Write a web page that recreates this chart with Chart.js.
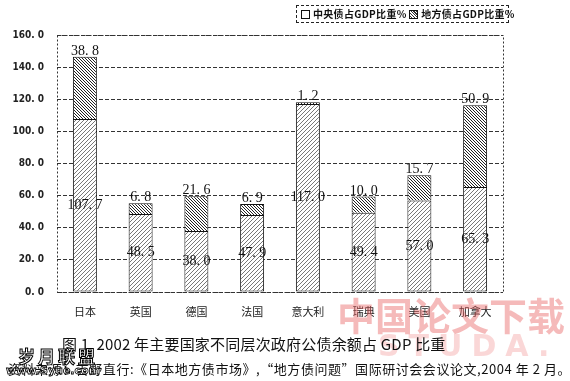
<!DOCTYPE html>
<html><head><meta charset="utf-8">
<script src="https://cdn.jsdelivr.net/npm/chart.js@4.4.1/dist/chart.umd.min.js"></script>
<style>
html,body{margin:0;padding:0;background:#fff;}
#wrap{position:relative;width:570px;height:381px;overflow:hidden;}
canvas#c{position:absolute;left:0;top:0;}
.t{position:absolute;white-space:nowrap;}
#legend{left:296px;top:5px;width:207px;height:16px;border:1px dashed #222;font:bold 10px "Noto Sans CJK SC";color:#111;line-height:16px;padding-left:4px;box-sizing:content-box;letter-spacing:0.3px;}
.sw{display:inline-block;width:7px;height:7px;border:1px solid #111;vertical-align:-1px;margin-right:3px;}
#title{left:62px;top:333px;font:15px "Noto Sans CJK SC";color:#111;letter-spacing:0.2px;}
#src{left:8px;top:359px;font:13px "Noto Sans CJK SC";color:#111;letter-spacing:0.55px;}
#wm1{left:18px;top:343px;font:bold 17px "Noto Sans CJK SC";color:#fff;letter-spacing:3px;-webkit-text-stroke:1px #000;}
#wm2{left:6px;top:364px;font:bold 11px "DejaVu Sans";color:#fff;-webkit-text-stroke:0.8px #000;}
#wm3{left:337px;top:286px;font:bold 38px "Noto Sans CJK SC";color:rgba(232,90,90,0.42);letter-spacing:0px;}
#wm4{left:378px;top:328px;font:bold 30px "DejaVu Sans";color:rgba(240,140,140,0.35);letter-spacing:9px;}
</style></head>
<body><div id="wrap">
<canvas id="c" width="570" height="381"></canvas>
<div id="legend" class="t"><span class="sw" style="background:#fff"></span>中央债占GDP比重% <span class="sw" style="background:repeating-linear-gradient(45deg,#fff 0 1px,#333 1px 2px)"></span>地方债占GDP比重%</div>
<div id="wm3" class="t">中国论文下载</div>
<div id="wm4" class="t">STUDA.</div>
<div id="title" class="t">图 1&nbsp; 2002 年主要国家不同层次政府公债余额占 GDP 比重</div>
<div id="src" class="t">资料来源：吉野直行:《日本地方债市场》,“地方债问题”国际研讨会会议论文,2004 年 2 月。</div>
<div id="wm1" class="t">岁月联盟</div>
<div id="wm2" class="t">www.Syue.com</div>
</div>
<script>
const categories = ['日本','英国','德国','法国','意大利','瑞典','美国','加拿大'];
const centralDebt = [107.7, 48.5, 38.0, 47.9, 117.0, 49.4, 57.0, 65.3];
const localDebt = [38.8, 6.8, 21.6, 6.9, 1.2, 10.0, 15.7, 50.9];
const seriesNames = ['中央债占GDP比重%','地方债占GDP比重%'];
const yMin = 0, yMax = 160, yStep = 20;

function hatch(size, dir, color, w){
  const c = document.createElement('canvas');
  c.width = size; c.height = size;
  const g = c.getContext('2d');
  g.fillStyle = '#fff'; g.fillRect(0,0,size,size);
  g.strokeStyle = color; g.lineWidth = w;
  g.beginPath();
  if(dir === '/'){
    for(let k=-1;k<=1;k++){ g.moveTo(k*size, size); g.lineTo(k*size+size, 0); }
  } else {
    for(let k=-1;k<=1;k++){ g.moveTo(k*size, 0); g.lineTo(k*size+size, size); }
  }
  g.stroke();
  return g.createPattern(c, 'repeat');
}
const ctx0 = document.getElementById('c').getContext('2d');
const patCentral = hatch(4, '/', '#555', 0.8);
const patLocal = hatch(3, '\\', '#222', 1);

const fmt = v => v.toFixed(1).replace('.', '. ');

const labelPlugin = {
  id:'labels',
  afterDatasetsDraw(chart){
    const c = chart.ctx;
    c.save();
    c.font = '14px "Liberation Serif"';
    c.fillStyle = '#111';
    c.textAlign = 'center';
    const m0 = chart.getDatasetMeta(0), m1 = chart.getDatasetMeta(1);
    m0.data.forEach((b,i)=>{
      c.textBaseline = 'middle';
      c.fillText(fmt(centralDebt[i]), b.x, (b.y + b.base)/2);
    });
    m1.data.forEach((b,i)=>{
      c.textBaseline = 'alphabetic';
      c.fillText(fmt(localDebt[i]), b.x, b.y - 2);
    });
    c.restore();
  }
};
const framePlugin = {
  id:'frame',
  beforeDatasetsDraw(chart){
    const a = chart.chartArea, c = chart.ctx;
    c.save();
    c.strokeStyle = '#333'; c.lineWidth = 1; c.setLineDash([2,2]);
    c.strokeRect(Math.round(a.left)+0.5, Math.round(a.top)+0.5, Math.round(a.right-a.left), Math.round(a.bottom-a.top));
    c.restore();
  }
};

new Chart(ctx0, {
  type:'bar',
  data:{
    labels: categories,
    datasets:[
      {label:seriesNames[0], data:centralDebt, backgroundColor:patCentral, borderColor:'#111', borderWidth:1, borderSkipped:false, categoryPercentage:1, barPercentage:0.43},
      {label:seriesNames[1], data:localDebt, backgroundColor:patLocal, borderColor:'#111', borderWidth:1, borderSkipped:'start', categoryPercentage:1, barPercentage:0.43}
    ]
  },
  options:{
    responsive:false, animation:false,
    layout:{padding:{left:0,right:67,top:35,bottom:0}},
    plugins:{legend:{display:false}, tooltip:{enabled:false}, title:{display:false}},
    scales:{
      x:{stacked:true, grid:{display:false}, border:{display:false},
         ticks:{color:'#222', font:{family:'"Noto Sans CJK SC"', size:11}, padding:5, maxRotation:0},
         afterFit(s){ s.height = 89; }},
      y:{stacked:true, min:yMin, max:yMax,
         grid:{color:'#333', lineWidth:1, drawTicks:false},
         border:{display:false, dash:[4,2]},
         ticks:{stepSize:yStep, color:'#222', padding:13, font:{family:'"DejaVu Sans Condensed"', size:10, weight:'bold'}, callback:v=>fmt(v)},
         afterFit(s){ s.width = 57; }}
    }
  },
  plugins:[framePlugin, labelPlugin]
});
</script>
</body></html>
